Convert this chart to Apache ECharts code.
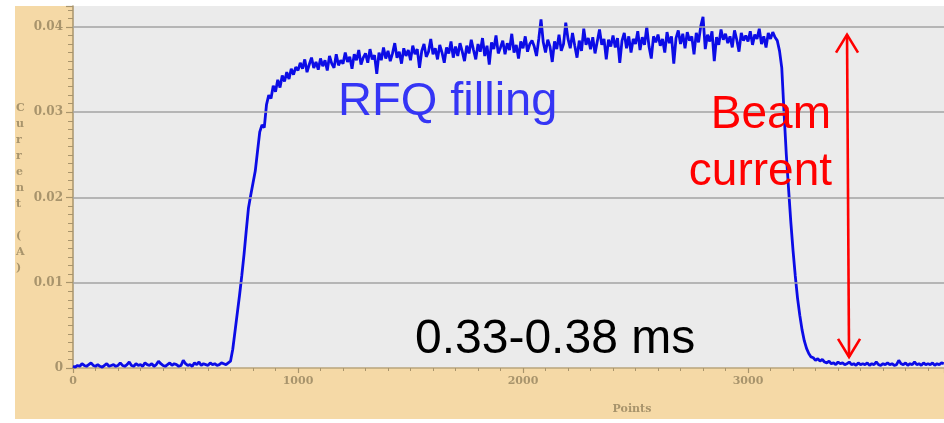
<!DOCTYPE html>
<html>
<head>
<meta charset="utf-8">
<script src="https://cdn.jsdelivr.net/npm/echarts@6/dist/echarts.min.js"></script>
<style>
  html, body { margin: 0; padding: 0; background: #ffffff; }
  #wrap { position: relative; width: 944px; height: 423px; overflow: hidden; }
  #panel { position: absolute; left: 15px; top: 6px; width: 929px; height: 413px; background: #f5d9a6; }
  #chart { position: absolute; left: 0; top: 0; width: 944px; height: 423px; }
</style>
</head>
<body>
<div id="wrap">
  <div id="panel"></div>
  <div id="chart"></div>
</div>
<script>
// Beam current trace sampled every 10 points (current in A)
const sampleStep = 10;

// points 0 .. 690 : before the pulse
const currentBefore = [
  0.0002,0.0001,0.0003,0.0002,0.0005,0.0003,0.0002,0.0004,0.0006,0.0003,
  0.0002,0.0004,0.0002,0.0001,0.0003,0.0005,0.0002,0.0003,0.0004,0.0002,
  0.0003,0.0006,0.0003,0.0002,0.0004,0.0007,0.0003,0.0002,0.0005,0.0003,
  0.0004,0.0002,0.0006,0.0004,0.0003,0.0005,0.0002,0.0004,0.0008,0.0005,
  0.0003,0.0002,0.0004,0.0006,0.0003,0.0005,0.0004,0.0002,0.0003,0.0009,
  0.0005,0.0003,0.0004,0.0002,0.0006,0.0004,0.0007,0.0003,0.0005,0.0004,
  0.0003,0.0006,0.0004,0.0005,0.0003,0.0004,0.0006,0.0005,0.0004,0.0006
];

// points 700 .. 990 : RFQ filling
const currentRise = [
  0.0008,0.0022,0.0043,0.0064,0.0085,0.0108,0.0133,0.0161,0.0188,0.0203,
  0.0217,0.0231,0.0254,0.0277,0.0285,0.0282,0.0309,0.0320,0.0316,0.0331,
  0.0324,0.0338,0.0329,0.0343,0.0336,0.0347,0.0339,0.0351,0.0344,0.0353
];

// points 1000 .. 3120 : flat top
const currentFlat = [
  0.0349,0.0358,0.0351,0.0362,0.0347,0.0356,0.0364,0.0352,0.0359,0.0350,
  0.0363,0.0354,0.0361,0.0349,0.0366,0.0357,0.0352,0.0368,0.0355,0.0361,
  0.0357,0.0370,0.0359,0.0365,0.0351,0.0368,0.0361,0.0373,0.0356,0.0364,
  0.0369,0.0358,0.0374,0.0362,0.0367,0.0345,0.0370,0.0361,0.0376,0.0363,
  0.0372,0.0360,0.0369,0.0381,0.0364,0.0371,0.0357,0.0375,0.0366,0.0373,
  0.0361,0.0378,0.0368,0.0374,0.0352,0.0372,0.0380,0.0365,0.0371,0.0386,
  0.0368,0.0375,0.0362,0.0379,0.0370,0.0358,0.0376,0.0369,0.0383,0.0364,
  0.0377,0.0366,0.0381,0.0371,0.0360,0.0378,0.0369,0.0385,0.0373,0.0362,
  0.0380,0.0371,0.0387,0.0366,0.0378,0.0356,0.0382,0.0374,0.0390,0.0369,
  0.0376,0.0384,0.0368,0.0381,0.0373,0.0392,0.0370,0.0379,0.0363,0.0383,
  0.0375,0.0389,0.0371,0.0380,0.0384,0.0377,0.0366,0.0386,0.0409,0.0382,
  0.0370,0.0385,0.0377,0.0359,0.0383,0.0374,0.0391,0.0372,0.0380,0.0405,
  0.0386,0.0375,0.0393,0.0378,0.0364,0.0384,0.0372,0.0398,0.0379,0.0387,
  0.0374,0.0388,0.0369,0.0383,0.0397,0.0379,0.0386,0.0362,0.0385,0.0377,
  0.0390,0.0376,0.0387,0.0358,0.0384,0.0393,0.0375,0.0389,0.0370,0.0386,
  0.0380,0.0395,0.0373,0.0388,0.0379,0.0400,0.0377,0.0363,0.0389,0.0382,
  0.0391,0.0378,0.0386,0.0370,0.0394,0.0381,0.0389,0.0357,0.0387,0.0396,
  0.0380,0.0392,0.0375,0.0394,0.0384,0.0389,0.0368,0.0393,0.0382,0.0401,
  0.0412,0.0374,0.0391,0.0383,0.0395,0.0360,0.0388,0.0379,0.0397,0.0385,
  0.0392,0.0381,0.0389,0.0376,0.0396,0.0385,0.0371,0.0393,0.0384,0.0390,
  0.0383,0.0395,0.0379,0.0391,0.0386,0.0398,0.0380,0.0389,0.0376,0.0393,
  0.0386,0.0394,0.0388
];

// points 3130 .. 3310 : end of the pulse
const currentFall = [
  0.0384,0.0372,0.0352,0.0300,0.0251,0.0211,0.0172,0.0138,0.0108,0.0082,
  0.0062,0.0045,0.0032,0.0023,0.0017,0.0013,0.0012,0.0009,0.0011
];

// points 3320 .. 3870 : after the pulse
const currentAfter = [
  0.0008,0.0010,0.0007,0.0006,0.0008,0.0005,0.0006,0.0004,0.0007,0.0005,
  0.0006,0.0004,0.0005,0.0007,0.0004,0.0005,0.0003,0.0006,0.0004,0.0005,
  0.0004,0.0006,0.0003,0.0005,0.0004,0.0007,0.0004,0.0003,0.0005,0.0004,
  0.0006,0.0004,0.0005,0.0003,0.0004,0.0009,0.0005,0.0004,0.0006,0.0003,
  0.0005,0.0004,0.0007,0.0004,0.0005,0.0003,0.0006,0.0004,0.0005,0.0004,
  0.0006,0.0003,0.0005,0.0004,0.0006,0.0005
];

// axis ticks / gridlines
const yGridValues = [0.01, 0.02, 0.03, 0.04];
const xLabelValues = [0, 1000, 2000, 3000];

// annotation arrow ends (points, A)
const arrowTop = [3440, 0.0391];
const arrowBottom = [3449, 0.0013];

const trace = currentBefore.concat(currentRise, currentFlat, currentFall, currentAfter)
  .map((v, i) => [i * sampleStep, v]);

const axisInk = '#a8946c';
const labelFont = { fontFamily: 'DejaVu Serif', fontWeight: 'bold', fontSize: 11, color: axisInk };

const chart = echarts.init(document.getElementById('chart'), null, { renderer: 'canvas' });

chart.setOption({
  animation: false,
  backgroundColor: 'transparent',
  grid: {
    left: 73, right: 0, top: 6, bottom: 55,
    show: true, backgroundColor: '#ebebeb', borderWidth: 0
  },
  xAxis: {
    type: 'value', min: 0, max: 3871, interval: 1000,
    splitLine: { show: false },
    axisLine: { show: true, lineStyle: { color: '#b9a57c', width: 1.5 } },
    axisTick: { show: true, length: 5, lineStyle: { color: axisInk, width: 1.2 } },
    minorTick: { show: true, splitNumber: 10, length: 3, lineStyle: { color: axisInk, width: 1 } },
    axisLabel: Object.assign({ margin: 8, showMaxLabel: false,
      formatter: v => (xLabelValues.indexOf(v) >= 0 ? String(v) : '') }, labelFont)
  },
  yAxis: {
    type: 'value', min: 0, max: 0.04246, interval: 0.01,
    splitLine: { show: false },
    axisLine: { show: true, lineStyle: { color: axisInk, width: 1.5 } },
    axisTick: { show: true, length: 7, lineStyle: { color: axisInk, width: 1.2 } },
    minorTick: { show: true, splitNumber: 10, length: 5, lineStyle: { color: axisInk, width: 1 } },
    axisLabel: Object.assign({ margin: 10, showMaxLabel: false,
      formatter: v => (v === 0 ? '0' : v.toFixed(2)) }, labelFont, { fontSize: 12 })
  },
  series: [
    {
      type: 'line', data: [], z: 1, silent: true,
      markLine: {
        silent: true, symbol: 'none', animation: false,
        label: { show: false },
        lineStyle: { color: '#a3a3a3', width: 1.6, type: 'solid' },
        data: yGridValues.map(v => ({ yAxis: v }))
      }
    },
    {
      type: 'line', data: trace, z: 3, clip: false,
      showSymbol: false, symbol: 'none',
      lineStyle: { color: '#0c0ce6', width: 2.8 }
    }
  ]
});

const pTop = chart.convertToPixel({ gridIndex: 0 }, arrowTop);
const pBot = chart.convertToPixel({ gridIndex: 0 }, arrowBottom);
const red = '#ff0000';

chart.setOption({
  graphic: [
    // vertical axis title, letters stacked
    {
      type: 'text', left: 16, top: 100, silent: true,
      style: {
        text: 'C\nu\nr\nr\ne\nn\nt\n\n(\nA\n)',
        fontFamily: 'DejaVu Serif', fontWeight: 'bold', fontSize: 11, lineHeight: 16,
        fill: axisInk, align: 'center'
      }
    },
    {
      type: 'text', x: 632, y: 409, silent: true,
      style: {
        text: 'Points', fontFamily: 'DejaVu Serif', fontWeight: 'bold', fontSize: 11,
        fill: axisInk, align: 'center', verticalAlign: 'middle'
      }
    },
    {
      type: 'text', x: 338, y: 102, silent: true, z: 10,
      style: {
        text: 'RFQ filling', fontFamily: 'Liberation Sans', fontSize: 47,
        fill: '#3535f5', align: 'left', verticalAlign: 'middle'
      }
    },
    {
      type: 'text', x: 831, y: 115, silent: true, z: 10,
      style: {
        text: 'Beam', fontFamily: 'Liberation Sans', fontSize: 46,
        fill: red, align: 'right', verticalAlign: 'middle'
      }
    },
    {
      type: 'text', x: 832, y: 172, silent: true, z: 10,
      style: {
        text: 'current', fontFamily: 'Liberation Sans', fontSize: 46,
        fill: red, align: 'right', verticalAlign: 'middle'
      }
    },
    {
      type: 'text', x: 415, y: 340, silent: true, z: 10,
      style: {
        text: '0.33-0.38 ms', fontFamily: 'Liberation Sans', fontSize: 48,
        fill: '#000000', align: 'left', verticalAlign: 'middle'
      }
    },
    {
      type: 'line', silent: true, z: 10,
      shape: { x1: pTop[0], y1: pTop[1], x2: pBot[0], y2: pBot[1] },
      style: { stroke: red, lineWidth: 2.6 }
    },
    {
      type: 'polyline', silent: true, z: 10,
      shape: { points: [[pTop[0] - 11, pTop[1] + 18], [pTop[0], pTop[1]], [pTop[0] + 11, pTop[1] + 18]] },
      style: { stroke: red, lineWidth: 2.6, fill: null }
    },
    {
      type: 'polyline', silent: true, z: 10,
      shape: { points: [[pBot[0] - 11, pBot[1] - 18], [pBot[0], pBot[1]], [pBot[0] + 11, pBot[1] - 18]] },
      style: { stroke: red, lineWidth: 2.6, fill: null }
    }
  ]
});
</script>
</body>
</html>
